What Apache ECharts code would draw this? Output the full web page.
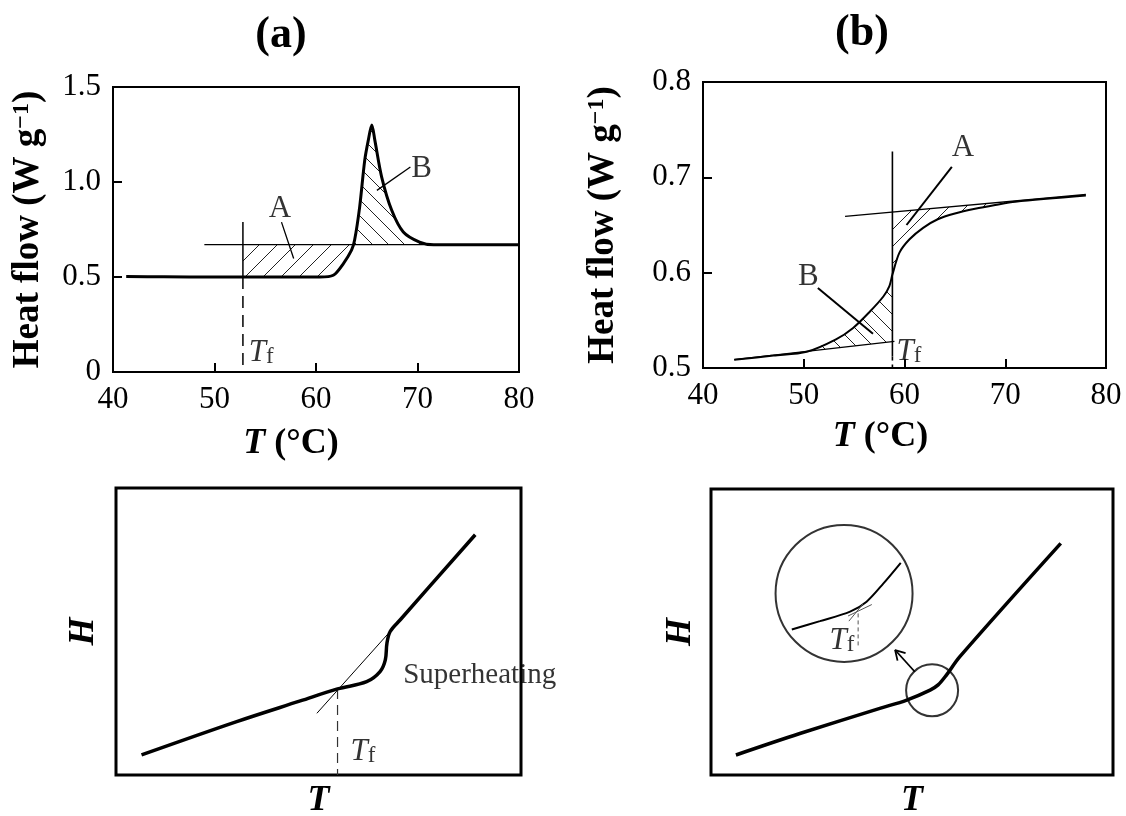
<!DOCTYPE html>
<html>
<head>
<meta charset="utf-8">
<script src="https://cdn.jsdelivr.net/npm/echarts@6/dist/echarts.min.js"></script>
<style>
  html, body { margin: 0; padding: 0; background: #fff; }
  #chart { width: 1126px; height: 816px; }
</style>
</head>
<body>
<div id="chart"></div>
<script>
const FONT = 'Liberation Serif';

// ---------- (a) heat flow with a sharp melting peak ----------
const aTemp = [41.3, 45, 50, 52.8, 55, 58, 60.4, 61.7, 62.7, 63.5, 63.8, 64.3, 64.8, 65.15, 65.5, 65.8, 66.47, 67.46, 68.6, 70.2, 71.6, 75, 80];
const aHeat = [0.502, 0.501, 0.5, 0.5, 0.5, 0.5, 0.5, 0.509, 0.571, 0.641, 0.693, 0.868, 1.114, 1.219, 1.30, 1.219, 1.026, 0.851, 0.737, 0.684, 0.67, 0.67, 0.67];
const aBaseline = 0.67;        // liquid baseline level
const aBaseStart = 49.0;       // left end of the baseline line
const aTf = 52.8;              // onset temperature T_f
const aTfTop = 0.789;          // top of the T_f marker line
const aCross = 63.67;          // rising edge meets the baseline
const aPeakEnd = 71.6;         // peak returns to the baseline
const aXTicks = [40, 50, 60, 70, 80];
const aYTicks = [0, 0.5, 1.0, 1.5];
const aYTickLabels = ['0', '0.5', '1.0', '1.5'];

// ---------- (b) heat flow with a gradual step ----------
const bTemp = [43.1, 47, 50.3, 53.2, 54.9, 56.55, 57.9, 58.5, 58.8, 59.5, 60.5, 61.85, 63.3, 65, 67, 69, 71, 78];
const bHeat = [0.5087, 0.513, 0.517, 0.530, 0.542, 0.559, 0.575, 0.586, 0.598, 0.621, 0.635, 0.647, 0.656, 0.662, 0.667, 0.671, 0.6745, 0.681];
const bTf = 58.8;
const bTfTop = 0.727;
const bUpperTangent = [[54.1, 0.659], [78.0, 0.682]];
const bLowerTangent = [[43.1, 0.5087], [59.0, 0.528]];
const bHatchAEnd = 71.0;       // curve joins the upper tangent
const bHatchBStart = 47.0;     // curve leaves the lower tangent
const bXTicks = [40, 50, 60, 70, 80];
const bYTicks = [0.5, 0.6, 0.7, 0.8];
const bYTickLabels = ['0.5', '0.6', '0.7', '0.8'];

// ---------- bottom left: enthalpy with superheating ----------
const hlT = [6.3, 29.8, 45.5, 54.7, 61.9, 65.2, 66.5, 66.9, 67.7, 70.2, 88.7];
const hlH = [7.0, 18.6, 25.8, 30.0, 32.5, 36.0, 40.1, 45.9, 50.0, 54.1, 83.7];
const hlTangent = [[49.6, 21.5], [67.3, 49.4]];
const hlTf = 54.7;
const hlTfH = 30.0;

// ---------- bottom right: enthalpy with a smooth bend ----------
const hrT = [6.2, 22.1, 42.0, 48.7, 54.5, 56.5, 58.6, 61.9, 87.0];
const hrH = [7.0, 14.5, 23.3, 26.2, 29.7, 31.5, 35.0, 41.4, 81.0];
const hrSpot = [55.0, 29.6];           // circled region of the bend
const hrLens = [33.1, 63.5];           // magnified view centre
const lensT = [20.1, 27.1, 34.6, 38.7, 42.9, 47.2];
const lensH = [50.9, 53.8, 57.1, 60.6, 67.0, 74.2];
const lensTf = [36.6, 56.5, 44.3];     // x, top, bottom of the dashed T_f line
const lensTangentLow = [[34.1, 55.6], [40.0, 59.6]];
const lensTangentHigh = [[34.3, 53.8], [37.8, 59.8]];
const arrowShaft = [[50.7, 36.1], [45.8, 43.7]];
const arrowHead = [[46.4, 40.0], [45.8, 43.7], [48.4, 42.6]];

// ---------- helpers ----------
const zip = (xs, ys) => xs.map((x, i) => [x, ys[i]]);
const lerp = (seg, x) => seg[0][1] + (seg[1][1] - seg[0][1]) * (x - seg[0][0]) / (seg[1][0] - seg[0][0]);

function hatch(size, dir) {
  const c = document.createElement('canvas');
  c.width = c.height = size;
  const g = c.getContext('2d');
  g.strokeStyle = '#222';
  g.lineWidth = 1;
  g.beginPath();
  if (dir === '/') { g.moveTo(-1, size + 1); g.lineTo(size + 1, -1); }
  else { g.moveTo(-1, -1); g.lineTo(size + 1, size + 1); }
  g.stroke();
  return { image: c, repeat: 'repeat' };
}

function line(gi, data, width, extra) {
  return Object.assign({
    type: 'line', xAxisIndex: gi, yAxisIndex: gi, data: data,
    symbol: 'none', showSymbol: false, silent: true, z: 3,
    lineStyle: { color: '#000', width: width }
  }, extra || {});
}

function region(gi, pts, pattern) {
  return {
    type: 'custom', xAxisIndex: gi, yAxisIndex: gi, data: pts, silent: true, z: 1,
    renderItem: function (params, api) {
      if (params.dataIndex !== 0) return null;
      return {
        type: 'polygon',
        shape: { points: pts.map(p => api.coord(p)) },
        style: { fill: pattern, stroke: null }
      };
    }
  };
}

const RICH = {
  t: { fontFamily: FONT, fontStyle: 'italic', fontSize: 31, lineHeight: 31, verticalAlign: 'top', color: '#000' },
  f: { fontFamily: FONT, fontSize: 23, lineHeight: 23, verticalAlign: 'bottom', padding: [14, 0, 0, 0], color: '#000' }
};

function labels(gi, items) {
  return {
    type: 'scatter', xAxisIndex: gi, yAxisIndex: gi, symbolSize: 1, silent: true, z: 6,
    itemStyle: { color: 'rgba(0,0,0,0)' },
    data: items.map(it => ({
      value: it.at,
      label: {
        show: true, position: 'inside', formatter: it.text, color: '#000',
        fontFamily: FONT, fontSize: it.size || 31, rich: RICH
      }
    }))
  };
}

// hatched regions built from the curves
const aCurve = zip(aTemp, aHeat);
const aRegionA = [[aTf, aBaseline]]
  .concat(aCurve.filter(p => p[0] >= aTf && p[0] < aCross))
  .concat([[aCross, aBaseline]]);
const aRegionB = [[aCross, aBaseline]]
  .concat(aCurve.filter(p => p[0] > aCross && p[0] < aPeakEnd))
  .concat([[aPeakEnd, aBaseline]]);

const bCurve = zip(bTemp, bHeat);
const bRegionA = [[bTf, lerp(bUpperTangent, bTf)]]
  .concat(bCurve.filter(p => p[0] >= bTf && p[0] < bHatchAEnd))
  .concat([[bHatchAEnd, lerp(bUpperTangent, bHatchAEnd)]]);
const bRegionB = [[bHatchBStart, lerp(bLowerTangent, bHatchBStart)], [bTf, lerp(bLowerTangent, bTf)]]
  .concat(bCurve.filter(p => p[0] > bHatchBStart && p[0] <= bTf).reverse());

// ---------- axes ----------
const tickStyle = { show: true, inside: true, length: 9, lineStyle: { color: '#000', width: 2 } };
const labelStyle = { fontFamily: FONT, fontSize: 31, color: '#000' };

const heatName = '{b|Heat flow (W g}{s|\u22121}{b|)}';
const heatRich = {
  b: { fontFamily: FONT, fontWeight: 'bold', fontSize: 37, lineHeight: 37, verticalAlign: 'bottom', color: '#000' },
  s: { fontFamily: FONT, fontWeight: 'bold', fontSize: 24, lineHeight: 24, verticalAlign: 'top', padding: [0, 0, 15, 0], color: '#000' }
};
const tempName = '{i|T}{b| (\u00b0C)}';
const tempRich = {
  i: { fontFamily: FONT, fontWeight: 'bold', fontStyle: 'italic', fontSize: 36, color: '#000' },
  b: { fontFamily: FONT, fontWeight: 'bold', fontSize: 36, color: '#000' }
};
const italicBold = { fontFamily: FONT, fontWeight: 'bold', fontStyle: 'italic', fontSize: 36, color: '#000' };

const gridBase = { show: true, borderColor: '#000', backgroundColor: 'transparent', containLabel: false, outerBoundsMode: 'none' };

const option = {
  animation: false,
  backgroundColor: '#fff',
  textStyle: { fontFamily: FONT },
  graphic: [
    { type: 'text', x: 281, y: 36, style: { text: '(a)', font: 'bold 44px "Liberation Serif"', fill: '#000', textAlign: 'center', textVerticalAlign: 'middle' } },
    { type: 'text', x: 862, y: 34, style: { text: '(b)', font: 'bold 44px "Liberation Serif"', fill: '#000', textAlign: 'center', textVerticalAlign: 'middle' } }
  ],
  grid: [
    Object.assign({ left: 113, top: 87, width: 406, height: 285, borderWidth: 2 }, gridBase),
    Object.assign({ left: 703, top: 82, width: 403, height: 286, borderWidth: 2 }, gridBase),
    Object.assign({ left: 116, top: 488, width: 405, height: 287, borderWidth: 3 }, gridBase),
    Object.assign({ left: 711, top: 489, width: 402, height: 286, borderWidth: 3 }, gridBase)
  ],
  xAxis: [
    { gridIndex: 0, type: 'value', min: aXTicks[0], max: aXTicks[aXTicks.length - 1], interval: 10,
      axisLine: { show: false }, splitLine: { show: false }, axisTick: tickStyle,
      axisLabel: Object.assign({ margin: 12 }, labelStyle),
      name: tempName, nameLocation: 'middle', nameGap: 54, nameTextStyle: { rich: tempRich, padding: [0, 50, 0, 0] } },
    { gridIndex: 1, type: 'value', min: bXTicks[0], max: bXTicks[bXTicks.length - 1], interval: 10,
      axisLine: { show: false }, splitLine: { show: false }, axisTick: tickStyle,
      axisLabel: Object.assign({ margin: 12 }, labelStyle),
      name: tempName, nameLocation: 'middle', nameGap: 51, nameTextStyle: { rich: tempRich, padding: [0, 48, 0, 0] } },
    { gridIndex: 2, type: 'value', min: 0, max: 100, axisLine: { show: false }, splitLine: { show: false },
      axisTick: { show: false }, axisLabel: { show: false },
      name: 'T', nameLocation: 'middle', nameGap: 8, nameTextStyle: italicBold },
    { gridIndex: 3, type: 'value', min: 0, max: 100, axisLine: { show: false }, splitLine: { show: false },
      axisTick: { show: false }, axisLabel: { show: false },
      name: 'T', nameLocation: 'middle', nameGap: 8, nameTextStyle: italicBold }
  ],
  yAxis: [
    { gridIndex: 0, type: 'value', min: aYTicks[0], max: aYTicks[aYTicks.length - 1], interval: 0.5,
      axisLine: { show: false }, splitLine: { show: false }, axisTick: tickStyle,
      axisLabel: Object.assign({ margin: 12, formatter: v => aYTickLabels[aYTicks.findIndex(t => Math.abs(t - v) < 1e-6)] || '' }, labelStyle),
      name: heatName, nameLocation: 'middle', nameGap: 66, nameRotate: 90, nameTextStyle: { rich: heatRich } },
    { gridIndex: 1, type: 'value', min: bYTicks[0], max: bYTicks[bYTicks.length - 1], interval: 0.1,
      axisLine: { show: false }, splitLine: { show: false }, axisTick: tickStyle,
      axisLabel: Object.assign({ margin: 12, formatter: v => bYTickLabels[bYTicks.findIndex(t => Math.abs(t - v) < 1e-6)] || '' }, labelStyle),
      name: heatName, nameLocation: 'middle', nameGap: 81, nameRotate: 90, nameTextStyle: { rich: heatRich } },
    { gridIndex: 2, type: 'value', min: 0, max: 100, axisLine: { show: false }, splitLine: { show: false },
      axisTick: { show: false }, axisLabel: { show: false },
      name: 'H', nameLocation: 'middle', nameGap: 14, nameRotate: 90, nameTextStyle: italicBold },
    { gridIndex: 3, type: 'value', min: 0, max: 100, axisLine: { show: false }, splitLine: { show: false },
      axisTick: { show: false }, axisLabel: { show: false },
      name: 'H', nameLocation: 'middle', nameGap: 12, nameRotate: 90, nameTextStyle: italicBold }
  ],
  series: [
    // (a)
    region(0, aRegionA, hatch(18, '/')),
    region(0, aRegionB, hatch(16, '\\')),
    line(0, [[aBaseStart, aBaseline], [80, aBaseline]], 1.3),
    line(0, [[aTf, aTfTop], [aTf, 0.5]], 1.5),
    line(0, [[aTf, 0.5], [aTf, 0]], 1.5, { lineStyle: { color: '#000', width: 1.5, type: [12, 7] } }),
    line(0, [[56.6, 0.789], [57.8, 0.597]], 1.3),
    line(0, [[69.3, 1.079], [66.0, 0.956]], 1.3),
    line(0, aCurve, 3, { smooth: 0.3, z: 4 }),
    labels(0, [
      { at: [56.45, 0.86], text: 'A' },
      { at: [70.4, 1.07], text: 'B' },
      { at: [54.6, 0.10], text: '{t|T}{f|f}' }
    ]),

    // (b)
    region(1, bRegionA, hatch(17, '/')),
    region(1, bRegionB, hatch(17, '\\')),
    line(1, bUpperTangent, 1.3),
    line(1, bLowerTangent, 1.3),
    line(1, [[bTf, bTfTop], [bTf, 0.512]], 1.6),
    line(1, [[bTf, 0.512], [bTf, 0.5]], 1.6, { lineStyle: { color: '#000', width: 1.6, type: [4, 4] } }),
    line(1, [[60.2, 0.650], [64.7, 0.711]], 2),
    line(1, [[51.4, 0.584], [56.87, 0.536]], 2),
    line(1, bCurve, 2, { smooth: 0.3, z: 4 }),
    labels(1, [
      { at: [65.8, 0.731], text: 'A' },
      { at: [50.46, 0.596], text: 'B' },
      { at: [60.45, 0.517], text: '{t|T}{f|f}' }
    ]),

    // bottom left
    line(2, hlTangent, 1),
    line(2, [[hlTf, hlTfH], [hlTf, 0]], 1.2, { lineStyle: { color: '#333', width: 1.2, type: [10, 6] } }),
    line(2, zip(hlT, hlH), 3.5, { smooth: 0.35, z: 4 }),
    labels(2, [
      { at: [61.0, 8.0], text: '{t|T}{f|f}' },
      { at: [89.8, 34.8], text: 'Superheating', size: 29 }
    ]),

    // bottom right
    line(3, zip(hrT, hrH), 3.5, { smooth: 0.35, z: 4 }),
    {
      type: 'scatter', xAxisIndex: 3, yAxisIndex: 3, silent: true, z: 5,
      data: [
        { value: hrSpot, symbolSize: 52 },
        { value: hrLens, symbolSize: 137 }
      ],
      symbol: 'circle',
      itemStyle: { color: 'rgba(0,0,0,0)', borderColor: '#000', borderWidth: 2 }
    },
    line(3, zip(lensT, lensH), 2, { smooth: 0.3 }),
    line(3, [[lensTf[0], lensTf[1]], [lensTf[0], lensTf[2]]], 1, { lineStyle: { color: '#555', width: 1, type: [4, 3] } }),
    line(3, lensTangentLow, 1, { lineStyle: { color: '#555', width: 1 } }),
    line(3, lensTangentHigh, 1, { lineStyle: { color: '#555', width: 1 } }),
    line(3, arrowShaft, 1.8),
    line(3, arrowHead, 1.8),
    labels(3, [
      { at: [32.6, 46.9], text: '{t|T}{f|f}' }
    ])
  ]
};

const chart = echarts.init(document.getElementById('chart'), null, { renderer: 'canvas' });
chart.setOption(option);
</script>
</body>
</html>
